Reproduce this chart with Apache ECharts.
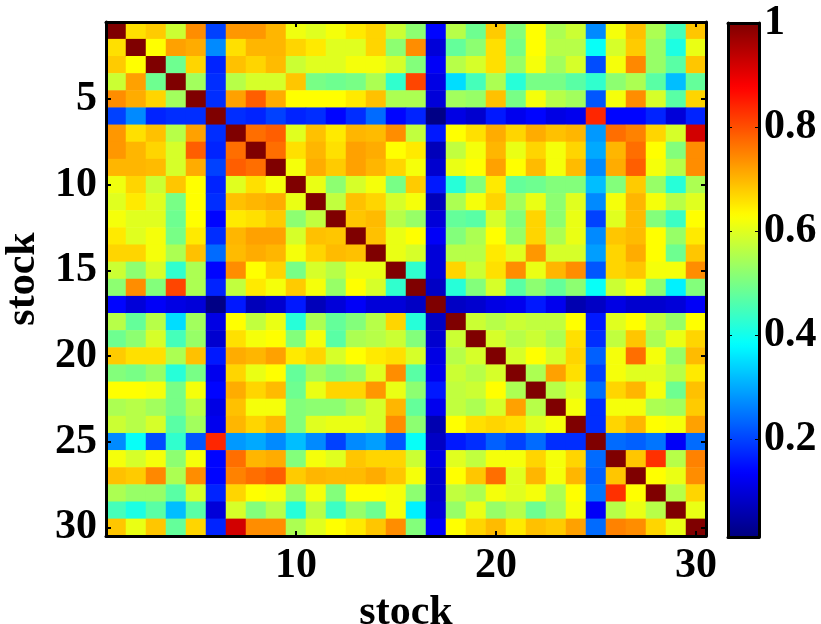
<!DOCTYPE html>
<html>
<head>
<meta charset="utf-8">
<script src="https://cdn.jsdelivr.net/npm/echarts@6/dist/echarts.min.js"></script>
<style>
html,body{margin:0;padding:0;background:#fff;}
#main{width:821px;height:624px;}
</style>
</head>
<body>
<div id="main"></div>
<script>
// stock labels
var stocks = ['1','2','3','4','5','6','7','8','9','10','11','12','13','14','15',
	'16','17','18','19','20','21','22','23','24','25','26','27','28','29','30'];
// upper triangle of the correlation matrix, row i holds columns i+1..30
var r1  = [0.66,0.68,0.58,0.74,0.20,0.73,0.73,0.70,0.615,0.60,0.62,0.65,0.67,0.58,0.52,0.14,0.56,0.49,0.68,0.51,0.63,0.55,0.58,0.27,0.62,0.69,0.55,0.45,0.685];
var r2  = [0.63,0.72,0.71,0.27,0.66,0.70,0.70,0.67,0.65,0.60,0.60,0.67,0.52,0.74,0.10,0.48,0.52,0.66,0.50,0.63,0.56,0.56,0.39,0.59,0.68,0.53,0.41,0.61];
var r3  = [0.49,0.67,0.17,0.69,0.67,0.695,0.58,0.60,0.60,0.62,0.62,0.59,0.51,0.13,0.56,0.59,0.66,0.53,0.62,0.54,0.59,0.21,0.62,0.745,0.53,0.47,0.685];
var r4  = [0.54,0.18,0.56,0.59,0.59,0.685,0.50,0.49,0.50,0.55,0.43,0.81,0.11,0.35,0.45,0.55,0.42,0.50,0.50,0.47,0.43,0.52,0.55,0.47,0.32,0.48];
var r5  = [0.18,0.72,0.785,0.71,0.63,0.63,0.63,0.65,0.69,0.55,0.55,0.10,0.54,0.53,0.69,0.50,0.62,0.56,0.54,0.22,0.62,0.74,0.59,0.47,0.67];
var r6  = [0.18,0.17,0.20,0.17,0.18,0.14,0.18,0.24,0.14,0.17,0.02,0.11,0.09,0.16,0.12,0.14,0.11,0.12,0.84,0.14,0.14,0.17,0.10,0.17];
var r7  = [0.77,0.785,0.60,0.69,0.65,0.70,0.695,0.74,0.57,0.16,0.63,0.66,0.71,0.67,0.71,0.69,0.70,0.285,0.77,0.75,0.67,0.59,0.92];
var r8  = [0.77,0.66,0.70,0.66,0.72,0.71,0.63,0.65,0.07,0.57,0.62,0.70,0.61,0.67,0.62,0.67,0.30,0.70,0.77,0.63,0.51,0.74];
var r9  = [0.62,0.71,0.68,0.72,0.70,0.67,0.62,0.09,0.61,0.63,0.72,0.63,0.695,0.62,0.695,0.27,0.71,0.785,0.62,0.56,0.74];
var r10 = [0.61,0.52,0.59,0.62,0.50,0.68,0.16,0.42,0.51,0.65,0.48,0.49,0.51,0.51,0.32,0.51,0.68,0.53,0.42,0.55];
var r11 = [0.57,0.69,0.67,0.59,0.62,0.07,0.55,0.62,0.67,0.54,0.61,0.52,0.60,0.27,0.62,0.70,0.62,0.56,0.60];
var r12 = [0.685,0.695,0.56,0.53,0.10,0.48,0.47,0.59,0.51,0.67,0.52,0.61,0.20,0.60,0.695,0.51,0.44,0.63];
var r13 = [0.69,0.61,0.63,0.13,0.51,0.55,0.63,0.53,0.67,0.55,0.61,0.27,0.685,0.695,0.63,0.53,0.65];
var r14 = [0.61,0.59,0.10,0.56,0.56,0.65,0.60,0.73,0.59,0.59,0.29,0.67,0.71,0.63,0.49,0.685];
var r15 = [0.43,0.10,0.67,0.58,0.66,0.74,0.61,0.70,0.74,0.22,0.67,0.685,0.62,0.62,0.74];
var r16 = [0.08,0.42,0.51,0.59,0.47,0.52,0.48,0.52,0.39,0.58,0.62,0.52,0.37,0.51];
var r17 = [0.08,0.09,0.11,0.12,0.16,0.12,0.06,0.08,0.11,0.09,0.09,0.10,0.13];
var r18 = [0.58,0.56,0.58,0.57,0.57,0.63,0.16,0.60,0.63,0.57,0.53,0.63];
var r19 = [0.59,0.56,0.58,0.55,0.66,0.18,0.57,0.685,0.55,0.61,0.67];
var r20 = [0.59,0.63,0.59,0.67,0.23,0.62,0.77,0.62,0.53,0.695];
var r21 = [0.55,0.72,0.66,0.20,0.62,0.60,0.60,0.56,0.65];
var r22 = [0.56,0.60,0.24,0.67,0.70,0.62,0.49,0.69];
var r23 = [0.62,0.18,0.62,0.62,0.55,0.54,0.68];
var r24 = [0.18,0.67,0.70,0.63,0.62,0.72];
var r25 = [0.24,0.23,0.25,0.13,0.24];
var r26 = [0.685,0.83,0.56,0.75];
var r27 = [0.63,0.61,0.74];
var r28 = [0.56,0.67];
var r29 = [0.61];
var upperRows = [r1,r2,r3,r4,r5,r6,r7,r8,r9,r10,r11,r12,r13,r14,r15,r16,r17,r18,r19,r20,
	r21,r22,r23,r24,r25,r26,r27,r28,r29,[]];
// colorbar ticks
var barTicks = [0.2, 0.4, 0.6, 0.8, 1];
var valueMin = 0.013, valueMax = 1;

// build symmetric matrix, diagonal = 1
var heatData = [];
for (var i = 0; i < stocks.length; i++) {
	heatData.push([i, i, 1]);
	var row = upperRows[i];
	for (var k = 0; k < row.length; k++) {
		var j = i + 1 + k;
		heatData.push([j, i, row[k]]);
		heatData.push([i, j, row[k]]);
	}
}

var font = 'Liberation Serif';
var labelStyle = {fontFamily: font, fontWeight: 'bold', fontSize: 42, color: '#000'};
var every5 = function(idx){ return (idx + 1) % 5 === 0; };
var every10 = function(idx){ return (idx + 1) % 10 === 0; };
var frameLine = {show: true, onZero: false, lineStyle: {color: '#000', width: 3}};

function catAxis(pos, showLabel, fn, extra){
	var ax = {
		type: 'category', gridIndex: 0, data: stocks, position: pos, z: 5,
		boundaryGap: true,
		axisLine: frameLine,
		axisTick: {show: true, inside: true, alignWithLabel: true, interval: fn, length: 5,
			lineStyle: {color: '#000', width: 2}},
		axisLabel: {show: showLabel, interval: fn, margin: 9,
			fontFamily: font, fontWeight: 'bold', fontSize: 42, color: '#000'},
		splitLine: {show: false}
	};
	for (var key in extra) ax[key] = extra[key];
	return ax;
}

var option = {
	backgroundColor: '#fff',
	animation: false,
	grid: [
		{left: 106, top: 22, width: 600, height: 514, outerBoundsMode: 'none', containLabel: false},
		{left: 728, top: 23, width: 31, height: 514, outerBoundsMode: 'none', containLabel: false}
	],
	xAxis: [
		catAxis('bottom', true, every10, {
			name: 'stock', nameLocation: 'middle', nameGap: 45,
			nameTextStyle: labelStyle
		}),
		catAxis('top', false, every10, {}),
		{type: 'value', gridIndex: 1, position: 'bottom', min: 0, max: 1, z: 10,
			axisLine: frameLine, axisTick: {show: false}, axisLabel: {show: false}, splitLine: {show: false}},
		{type: 'value', gridIndex: 1, position: 'top', min: 0, max: 1, z: 10,
			axisLine: frameLine, axisTick: {show: false}, axisLabel: {show: false}, splitLine: {show: false}}
	],
	yAxis: [
		catAxis('left', true, every5, {
			inverse: true,
			name: 'stock', nameLocation: 'middle', nameGap: 62, nameRotate: 90,
			nameTextStyle: labelStyle
		}),
		catAxis('right', false, every5, {inverse: true}),
		{type: 'value', gridIndex: 1, position: 'right', min: valueMin, max: valueMax, z: 10,
			axisLine: frameLine,
			axisTick: {show: true, inside: true, length: 4, customValues: barTicks,
				lineStyle: {color: '#000', width: 1}},
			axisLabel: {show: true, margin: 5, customValues: barTicks,
				fontFamily: font, fontWeight: 'bold', fontSize: 42, color: '#000'},
			splitLine: {show: false}},
		{type: 'value', gridIndex: 1, position: 'left', min: valueMin, max: valueMax, z: 10,
			axisLine: frameLine,
			axisTick: {show: true, inside: true, length: 4, customValues: barTicks,
				lineStyle: {color: '#000', width: 1}},
			axisLabel: {show: false},
			splitLine: {show: false}}
	],
	visualMap: {
		type: 'continuous',
		min: valueMin, max: valueMax,
		seriesIndex: 0,
		calculable: false,
		hoverLink: false,
		orient: 'vertical',
		left: 728, top: 23,
		itemWidth: 31, itemHeight: 514,
		padding: 0,
		text: null,
		showLabel: false,
		inRange: {
			color: ['#00007F','#0000FF','#007FFF','#00FFFF','#7FFF7F','#FFFF00','#FF7F00','#FF0000','#7F0000']
		}
	},
	series: [{
		type: 'heatmap',
		xAxisIndex: 0, yAxisIndex: 0,
		data: heatData,
		itemStyle: {borderWidth: 0}
	}]
};

var myChart = echarts.init(document.getElementById('main'));
myChart.setOption(option);
</script>
</body>
</html>
